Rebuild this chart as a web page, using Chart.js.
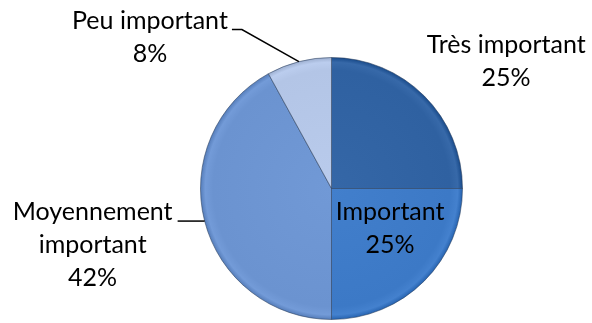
<!DOCTYPE html>
<html>
<head>
<meta charset="utf-8">
<script src="https://cdn.jsdelivr.net/npm/chart.js@4"></script>
<style>
  html, body { margin: 0; padding: 0; background: #fff; }
  #wrap { width: 592px; height: 323px; }
</style>
</head>
<body>
<div id="wrap"><canvas id="chart-pie"></canvas></div>
<script>
// données
const categories = ["Très important", "Important", "Moyennement important", "Peu important"];
const values = [25, 25, 42, 8];
const labelLines = [
  ["Très important", "25%"],
  ["Important", "25%"],
  ["Moyennement", "important", "42%"],
  ["Peu important", "8%"],
];

const colors = ["#2f61a1", "#3c79c6", "#6b93d0", "#b3c5e6"];

// position du texte par rapport au point du bord de la part (milieu de l'arc)
const labelPlace = [
  { dx: 82, dy: -43, leader: null },
  { dx: -34, dy: -61, leader: null },
  { dx: -112, dy: -1, leader: [[-27, 0]] },
  { dx: -149, dy: -33, leader: [[-57, -32], [-67, -32]] },
];

function shade(hex, amt) {
  let r = parseInt(hex.slice(1, 3), 16);
  let g = parseInt(hex.slice(3, 5), 16);
  let b = parseInt(hex.slice(5, 7), 16);
  r = Math.min(255, Math.max(0, r + amt));
  g = Math.min(255, Math.max(0, g + amt));
  b = Math.min(255, Math.max(0, b + amt));
  return `rgb(${r},${g},${b})`;
}

function sliceFill(context) {
  const chart = context.chart;
  const base = colors[context.dataIndex];
  const area = chart.chartArea;
  if (!area) return base;
  const cx = (area.left + area.right) / 2;
  const cy = (area.top + area.bottom) / 2;
  const r = Math.min(area.right - area.left, area.bottom - area.top) / 2;
  const g = chart.ctx.createRadialGradient(cx, cy, 0, cx, cy, r);
  g.addColorStop(0, shade(base, 6));
  g.addColorStop(0.9, base);
  g.addColorStop(0.96, shade(base, 8));
  g.addColorStop(1, shade(base, -25));
  return g;
}

const pieLabels = {
  id: "pieLabels",
  afterDatasetsDraw(chart) {
    const ctx = chart.ctx;
    const meta = chart.getDatasetMeta(0);
    ctx.save();
    ctx.font = '25px Lato, "Open Sans", sans-serif';
    ctx.fillStyle = "#000";
    ctx.textAlign = "center";
    ctx.textBaseline = "alphabetic";
    meta.data.forEach((arc, i) => {
      const mid = (arc.startAngle + arc.endAngle) / 2;
      const ax = arc.x + Math.cos(mid) * arc.outerRadius;
      const ay = arc.y + Math.sin(mid) * arc.outerRadius;
      const p = labelPlace[i];
      if (p.leader) {
        ctx.strokeStyle = "#000";
        ctx.lineWidth = 1.5;
        ctx.beginPath();
        ctx.moveTo(ax, ay);
        p.leader.forEach(([lx, ly]) => ctx.lineTo(ax + lx, ay + ly));
        ctx.stroke();
      }
      labelLines[i].forEach((line, k) => {
        ctx.fillText(line, ax + p.dx, ay + p.dy + k * 33);
      });
    });
    ctx.restore();
  },
};

new Chart(document.getElementById("chart-pie"), {
  type: "pie",
  data: {
    labels: categories,
    datasets: [
      {
        data: values,
        backgroundColor: sliceFill,
        borderColor: "rgba(40,60,90,0.55)",
        borderWidth: 1,
      },
    ],
  },
  plugins: [pieLabels],
  options: {
    responsive: true,
    maintainAspectRatio: false,
    animation: false,
    layout: { padding: { left: 200, right: 129, top: 57, bottom: 3 } },
    plugins: {
      legend: { display: false },
      tooltip: { enabled: false },
    },
  },
});
</script>
</body>
</html>
